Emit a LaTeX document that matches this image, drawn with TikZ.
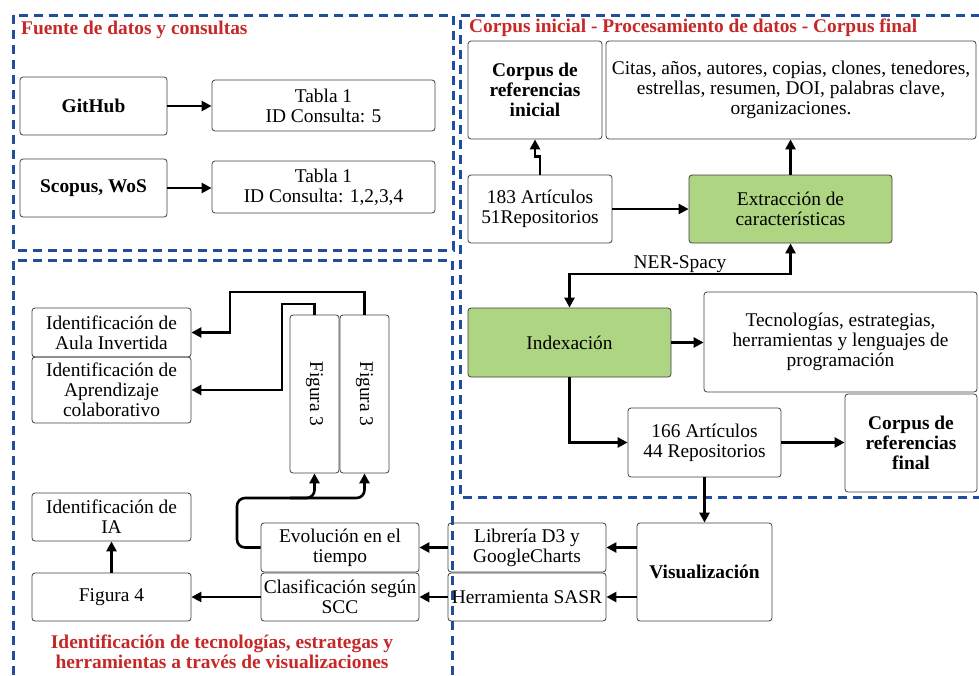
\documentclass[tikz,border=0pt]{standalone}
\usepackage{fontspec}
\setmainfont{Liberation Serif}
\usetikzlibrary{positioning,calc,arrows.meta}
\definecolor{RegionBlue}{HTML}{1F4E9E}
\definecolor{TitleRed}{HTML}{C62828}
\definecolor{StepGreen}{HTML}{AED581}

\begin{document}
\begin{tikzpicture}[x=1pt,y=-1pt,
    font=\fontsize{19.4}{20}\selectfont,
    box/.style={draw=black!75, line width=0.8pt, rounded corners=3pt, align=center, inner sep=1pt},
    greenbox/.style={box, fill=StepGreen},
    boldbox/.style={box, font=\fontsize{19.4}{20}\selectfont\bfseries},
    region/.style={draw=RegionBlue, line width=3pt, dash pattern=on 9pt off 6pt},
    title/.style={text=TitleRed, font=\fontsize{19.4}{20}\selectfont\bfseries, align=center, inner sep=0pt},
    arr/.style={-{Triangle[length=10pt,width=10pt]}, line width=2.6pt},
    arrboth/.style={{Triangle[length=10pt,width=10pt]}-{Triangle[length=10pt,width=10pt]}, line width=2.6pt}]
        \useasboundingbox (0,0) rectangle (979,675);

        % Regions
        \draw[region] (13,15) rectangle (453,250);
        \draw[region] (995,15) -- (460,15) -- (460,497) -- (995,497);
        \draw[region] (452,690) -- (452,260) -- (13,260) -- (13,690);

        % Titles
        \node[title, anchor=west] (tfuente) at (21,30) {Fuente de datos y consultas};
        \node[title, anchor=west] (tcorpus) at (469,28) {Corpus inicial - Procesamiento de datos - Corpus final};
        \node[title] (tvis) at (222,652) {Identificación de tecnologías, estrategas y\\herramientas a través de visualizaciones};

        % Fuente de datos
        \node[boldbox, minimum width=147, minimum height=58] (github) at (93.5,106) {GitHub};
        \node[box, minimum width=223, minimum height=51] (tabla1) at (323.5,105.5) {Tabla 1\\ID Consulta: 5};
        \node[boldbox, minimum width=147, minimum height=58] (scopus) at (93.5,188) {Scopus, WoS};
        \node[box, minimum width=223, minimum height=52] (tabla2) at (323.5,187) {Tabla 1\\ID Consulta: 1,2,3,4};

        % Corpus y procesamiento
        \node[boldbox, minimum width=134, minimum height=98] (cinicial) at (535,90) {Corpus de\\referencias\\inicial};
        \node[box, minimum width=370, minimum height=98] (citas) at (791,90) {Citas, años, autores, copias, clones, tenedores,\\estrellas, resumen, DOI, palabras clave,\\organizaciones.};
        \node[box, minimum width=144, minimum height=68] (n183) at (540,209) {183 Artículos\\51Repositorios};
        \node[greenbox, minimum width=203, minimum height=68] (extrac) at (790.5,209) {Extracción de\\características};
        \node[greenbox, minimum width=203, minimum height=69] (index) at (569.5,342.5) {Indexación};
        \node[box, minimum width=273, minimum height=100] (tecno) at (840.5,342) {Tecnologías, estrategias,\\herramientas y lenguajes de\\programación};
        \node[box, minimum width=153, minimum height=69] (n166) at (704.5,442.5) {166 Artículos\\44 Repositorios};
        \node[boldbox, minimum width=132, minimum height=98] (cfinal) at (911,443) {Corpus de\\referencias\\final};

        % Visualizaciones
        \node[boldbox, minimum width=135, minimum height=98] (visual) at (704.5,572) {Visualización};
        \node[box, minimum width=158, minimum height=49] (libreria) at (527,547.5) {Librería D3 y\\GoogleCharts};
        \node[box, minimum width=158, minimum height=48] (sasr) at (527,597) {Herramienta SASR};
        \node[box, minimum width=158, minimum height=49] (evol) at (340,547.5) {Evolución en el\\tiempo};
        \node[box, minimum width=158, minimum height=48] (clasif) at (340,597) {Clasificación según\\SCC};
        \node[box, minimum width=159, minimum height=48] (fig4) at (111.5,597) {Figura 4};
        \node[box, minimum width=159, minimum height=48] (ia) at (111.5,517) {Identificación de\\IA};
        \node[box, minimum width=159, minimum height=49] (aula) at (111.5,332.5) {Identificación de\\Aula Invertida};
        \node[box, minimum width=159, minimum height=66] (aprend) at (111.5,390) {Identificación de\\Aprendizaje\\colaborativo};
        \node[box, rotate=-90, minimum width=158, minimum height=49] (fig3a) at (314.5,394) {Figura 3};
        \node[box, rotate=-90, minimum width=158, minimum height=49] (fig3b) at (364.5,394) {Figura 3};

        % Connectors
        \draw[arr] (github.east) -- (github.east -| tabla1.west);
        \draw[arr] (scopus.east) -- (scopus.east -| tabla2.west);
        \draw[arr] (n183.north) -- ++(0,-18) -| (cinicial.south);
        \draw[arr] (n183.east) -- (extrac.west);
        \draw[arr] (extrac.north) -- (extrac.north |- citas.south);
        \draw[arrboth] (index.north) -- ++(0,-33.5) -| node[pos=0.25, above, inner sep=0pt] {NER-Spacy} (extrac.south);
        \draw[arr] (index.east) -- (index.east -| tecno.west);
        \draw[arr] (index.south) |- (n166.west);
        \draw[arr] (n166.east) -- (n166.east -| cfinal.west);
        \draw[arr] (n166.south) -- (visual.north);
        \draw[arr] (visual.west |- libreria.east) -- (libreria.east);
        \draw[arr] (visual.west |- sasr.east) -- (sasr.east);
        \draw[arr] (libreria.west) -- (evol.east);
        \draw[arr] (sasr.west) -- (clasif.east);
        \draw[arr] (clasif.west) -- (fig4.east);
        \draw[arr] (fig4.north) -- (ia.south);

        % Evolucion -> Figura 3
        \coordinate (j) at (237,498);
        \coordinate (j2) at (290,498);
        \draw[arr, rounded corners=8pt] (evol.west) -| (j) -| (fig3a.east);
        \draw[arr, rounded corners=8pt] (j2) -| (fig3b.east);

        % Figura 3 -> identificaciones
        \coordinate (k1) at (230,292);
        \coordinate (k2) at (282,304);
        \draw[arr] (fig3b.west) |- (k1) |- (aula.east);
        \draw[arr] (fig3a.west) |- (k2) |- (aprend.east);
\end{tikzpicture}
\end{document}
